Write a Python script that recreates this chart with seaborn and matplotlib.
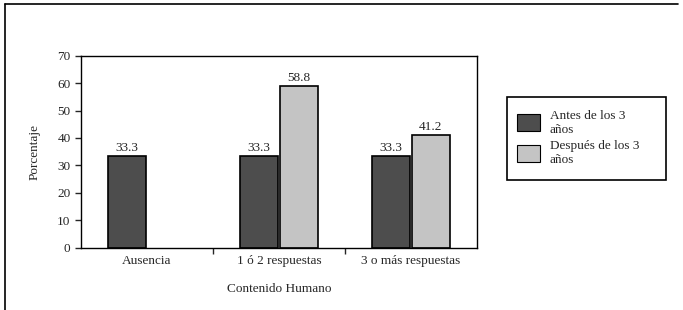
import matplotlib
matplotlib.use("Agg")
import matplotlib.pyplot as plt
import seaborn as sns
import pandas as pd
from matplotlib.lines import Line2D
from matplotlib.patches import Rectangle

categorias = ["Ausencia", "1 ó 2 respuestas", "3 o más respuestas"]
grupos = ["Antes de los 3 años", "Después de los 3 años"]
etiquetas_leyenda = ["Antes de los 3\naños", "Después de los 3\naños"]
antes = [33.3, 33.3, 33.3]
despues = [None, 58.8, 41.2]
y_ticks = [0, 10, 20, 30, 40, 50, 60, 70]

filas = []
for cat, a, d in zip(categorias, antes, despues):
    filas.append({"cat": cat, "grupo": grupos[0], "valor": a})
    if d is not None:
        filas.append({"cat": cat, "grupo": grupos[1], "valor": d})
df = pd.DataFrame(filas)

sns.set_style("white")
plt.rcParams["font.family"] = ["Liberation Serif", "DejaVu Serif"]
fs = 9.5

fig = plt.figure(figsize=(6.83, 3.10), dpi=100)
ax = fig.add_axes([0.1186, 0.201, 0.5798, 0.6193])

colores = {grupos[0]: "#4d4d4d", grupos[1]: "#c4c4c4"}
sns.barplot(data=df, x="cat", y="valor", hue="grupo", order=categorias,
            hue_order=grupos, palette=colores, width=0.6, gap=0.03,
            edgecolor="black", linewidth=1.2, ax=ax, legend=False)

for cont in ax.containers:
    for bar in cont:
        h = bar.get_height()
        if h == h and h > 0:
            ax.text(bar.get_x() + bar.get_width() / 2, h + 0.8, f"{h:.1f}",
                    ha="center", va="bottom", fontsize=fs)

ax.set_xlim(-0.5, 2.5)
ax.set_ylim(0, 70)
ax.set_yticks(y_ticks)
ax.set_xticks(range(len(categorias)))
ax.set_xticks([0.5, 1.5], minor=True)
ax.set_xticklabels(categorias)
ax.tick_params(axis="x", which="major", length=0, labelsize=fs, pad=5)
ax.tick_params(axis="x", which="minor", length=4, width=1, direction="out", bottom=True)
ax.tick_params(axis="y", length=4, width=1, direction="out", left=True, labelsize=fs)
for s in ax.spines.values():
    s.set_visible(True)
    s.set_color("black")
    s.set_linewidth(1)

ax.set_xlabel("Contenido Humano", fontsize=fs, labelpad=12)
ax.set_ylabel("Porcentaje", fontsize=fs, labelpad=12)

handles = [plt.Rectangle((0, 0), 1, 1, facecolor=colores[g], edgecolor="black", linewidth=0.8)
           for g in grupos]
leg = fig.legend(handles, etiquetas_leyenda, loc="upper left",
                 bbox_to_anchor=(0.742, 0.68), fontsize=fs, frameon=False,
                 handlelength=1.7, handleheight=1.6, labelspacing=0.35,
                 borderpad=0.8, handletextpad=0.75, borderaxespad=0)

# caja de la leyenda, algo más ancha que el texto como en el original
fig.add_artist(Rectangle((0.742, 0.419), 0.233, 0.268, transform=fig.transFigure,
                         facecolor="none", edgecolor="black", linewidth=1.2))

# marco exterior (izquierda y arriba)
for xs, ys in [([0.007, 0.007], [0.0, 0.987]), ([0.007, 0.993], [0.987, 0.987])]:
    fig.add_artist(Line2D(xs, ys, color="black", linewidth=1.2, transform=fig.transFigure))

fig.savefig("out.png", dpi=100)
